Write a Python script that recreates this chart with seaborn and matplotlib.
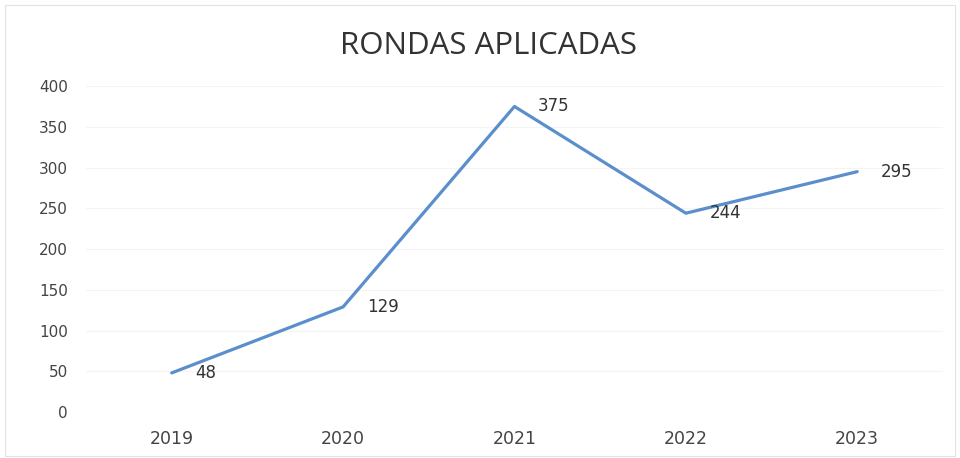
import matplotlib
matplotlib.use("Agg")
import matplotlib.pyplot as plt
import seaborn as sns
import pandas as pd
from matplotlib.patches import Rectangle

years = ["2019", "2020", "2021", "2022", "2023"]
rondas = [48, 129, 375, 244, 295]
y_ticks = [0, 50, 100, 150, 200, 250, 300, 350, 400]
title = "RONDAS APLICADAS"

df = pd.DataFrame({"anio": years, "rondas": rondas})

sns.set_theme(style="white")
plt.rcParams["font.family"] = ["DejaVu Sans"]

fig = plt.figure(figsize=(9.6, 4.58), dpi=100)
ax = fig.add_axes([0.0896, 0.1004, 0.8926, 0.7116])

line_color = "#5b8fcc"
sns.lineplot(data=df, x="anio", y="rondas", ax=ax, color=line_color,
             linewidth=2.3, sort=False)

# value labels to the right of each point
for i, v in enumerate(rondas):
    ax.annotate(str(v), (i, v), xytext=(17, 0), textcoords="offset points",
                ha="left", va="center", fontsize=12, color="#333333")

ax.set_xlim(-0.5, len(years) - 0.5)
ax.set_ylim(0, 400)
ax.set_yticks(y_ticks)
ax.set_xticks(range(len(years)))
ax.set_xticklabels(years)
ax.tick_params(axis="y", labelsize=11, labelcolor="#444444", length=0, pad=13)
ax.tick_params(axis="x", labelsize=12.5, labelcolor="#444444", length=0, pad=13)
ax.set_xlabel("")
ax.set_ylabel("")
ax.yaxis.grid(True, color="#f4f4f4", linewidth=0.8)
ax.set_axisbelow(True)
for s in ax.spines.values():
    s.set_visible(False)

fig.text(0.509, 0.900, title, ha="center", va="center", fontsize=22.5,
         color="#333333", family=["Open Sans", "DejaVu Sans"])

# thin chart frame
fig.patches.append(Rectangle((0.005, 0.004), 0.99, 0.985,
                             transform=fig.transFigure, fill=False,
                             edgecolor="#e2e2e2", linewidth=0.8))

fig.savefig("out.png", dpi=100, facecolor="white")
